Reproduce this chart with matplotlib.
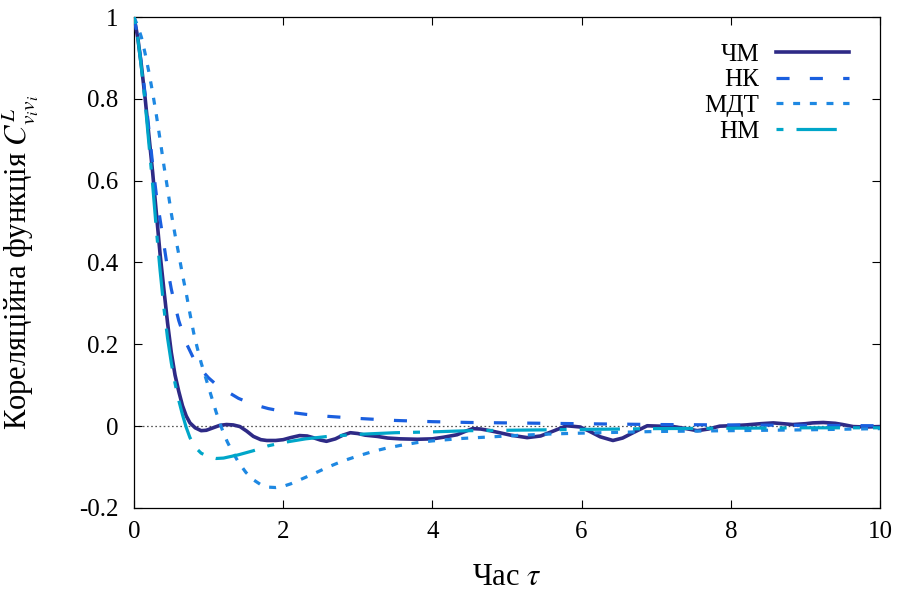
import matplotlib
matplotlib.use("Agg")
import matplotlib.pyplot as plt
from matplotlib.ticker import FuncFormatter

plt.rcParams['font.family'] = 'serif'
plt.rcParams['font.serif'] = ['Liberation Serif', 'DejaVu Serif']
plt.rcParams['mathtext.fontset'] = 'stix'
plt.rcParams['lines.scale_dashes'] = False

# ---- data ----
t_chm = [0, 0.05, 0.1, 0.15, 0.2, 0.25, 0.3, 0.35, 0.4, 0.45, 0.5, 0.55, 0.6, 0.65,
         0.7, 0.75, 0.82, 0.9, 0.97, 1.06, 1.15, 1.24, 1.33, 1.42, 1.51, 1.6, 1.7, 1.78,
         1.9, 2.0, 2.1, 2.22, 2.32, 2.4, 2.5, 2.58, 2.7, 2.8, 2.9, 3.0, 3.1, 3.26, 3.4,
         3.57, 3.8, 4.0, 4.15, 4.33, 4.45, 4.54, 4.65, 4.77, 4.9, 5.05, 5.27, 5.45,
         5.62, 5.8, 5.98, 6.1, 6.25, 6.42, 6.55, 6.69, 6.88, 7.05, 7.23, 7.4, 7.55,
         7.7, 7.85, 8.0, 8.2, 8.4, 8.57, 8.7, 8.83, 9.0, 9.1, 9.24, 9.4, 9.5, 9.64,
         9.8, 10.0]
v_chm = [1.0, 0.95, 0.88, 0.80, 0.71, 0.62, 0.52, 0.42, 0.335, 0.252, 0.18, 0.125,
         0.085, 0.05, 0.025, 0.008, -0.004, -0.011, -0.010, -0.004, 0.002, 0.004,
         0.003, -0.001, -0.012, -0.025, -0.033, -0.035, -0.035, -0.033, -0.028,
         -0.023, -0.024, -0.028, -0.034, -0.037, -0.031, -0.022, -0.016, -0.018,
         -0.022, -0.025, -0.029, -0.031, -0.032, -0.031, -0.027, -0.021, -0.012,
         -0.006, -0.007, -0.011, -0.016, -0.022, -0.028, -0.024, -0.012, 0.001,
         -0.002, -0.012, -0.026, -0.035, -0.029, -0.016, 0.001, 0.0, -0.001, -0.006,
         -0.011, -0.007, 0.0, 0.001, 0.003, 0.006, 0.008, 0.006, 0.004, 0.006, 0.008,
         0.009, 0.007, 0.004, -0.001, -0.002, -0.001]

t_nk = [0, 0.05, 0.1, 0.15, 0.2, 0.25, 0.3, 0.35, 0.4, 0.45, 0.5, 0.55, 0.6, 0.7,
        0.8, 0.9, 1.0, 1.1, 1.2, 1.4, 1.6, 1.8, 2.0, 2.3, 2.6, 3.0, 3.5, 4.0, 4.5,
        5.0, 6.0, 7.0, 8.0, 9.0, 10.0]
v_nk = [1.0, 0.95, 0.885, 0.81, 0.725, 0.64, 0.565, 0.505, 0.445, 0.385, 0.335,
        0.295, 0.258, 0.203, 0.165, 0.138, 0.118, 0.102, 0.09, 0.068, 0.053, 0.043,
        0.036, 0.029, 0.024, 0.019, 0.014, 0.011, 0.009, 0.008, 0.006, 0.004,
        0.003, 0.002, 0.001]

t_mdt = [0, 0.05, 0.1, 0.15, 0.2, 0.25, 0.3, 0.35, 0.4, 0.45, 0.5, 0.55, 0.6, 0.65,
         0.7, 0.75, 0.8, 0.85, 0.9, 0.95, 1.0, 1.05, 1.1, 1.15, 1.2, 1.25, 1.3, 1.4,
         1.5, 1.6, 1.7, 1.8, 1.9, 2.0, 2.1, 2.2, 2.4, 2.6, 2.8, 3.0, 3.2, 3.4, 3.6,
         3.8, 4.0, 4.4, 4.8, 5.2, 5.6, 6.0, 6.5, 7.0, 8.0, 9.0, 10.0]
v_mdt = [1.0, 0.978, 0.95, 0.91, 0.865, 0.815, 0.76, 0.70, 0.638, 0.58, 0.52,
         0.468, 0.42, 0.37, 0.325, 0.275, 0.228, 0.19, 0.155, 0.125, 0.095, 0.065,
         0.035, 0.008, -0.017, -0.038, -0.056, -0.088, -0.113, -0.131, -0.143,
         -0.149, -0.150, -0.147, -0.141, -0.133, -0.117, -0.100, -0.085, -0.073,
         -0.062, -0.053, -0.046, -0.040, -0.036, -0.030, -0.026, -0.022, -0.019,
         -0.017, -0.015, -0.013, -0.011, -0.009, -0.006]

t_nm = [0, 0.05, 0.1, 0.15, 0.2, 0.25, 0.3, 0.35, 0.4, 0.45, 0.5, 0.55, 0.6, 0.65,
        0.7, 0.75, 0.8, 0.85, 0.9, 1.0, 1.1, 1.2, 1.4, 1.6, 1.8, 2.0, 2.3, 2.6, 3.0,
        3.5, 4.0, 4.5, 5.0, 5.5, 6.0, 7.0, 8.0, 9.0, 10.0]
v_nm = [1.0, 0.95, 0.875, 0.79, 0.69, 0.59, 0.48, 0.38, 0.29, 0.215, 0.155, 0.105,
        0.063, 0.028, -0.003, -0.028, -0.045, -0.057, -0.066, -0.075, -0.079,
        -0.078, -0.070, -0.060, -0.048, -0.040, -0.031, -0.025, -0.020, -0.016,
        -0.014, -0.011, -0.010, -0.009, -0.008, -0.006, -0.005, -0.004, -0.004]

labels = ['ЧМ', 'НК', 'МДТ', 'НМ']
colors = ['#2e2a86', '#1a5fdf', '#1e88e2', '#00a6c9']
xticks = [0, 2, 4, 6, 8, 10]
yticks = [-0.2, 0, 0.2, 0.4, 0.6, 0.8, 1.0]

# ---- figure ----
fig = plt.figure(figsize=(8.97, 5.92), dpi=100)
ax = fig.add_axes([134 / 897, 84 / 592, 746 / 897, 491 / 592])

ax.axhline(0, color='#555555', lw=0.9, ls=(0, (1.2, 1.8)), zorder=1)

lw = 2.3
ax.plot(t_chm, v_chm, color=colors[0], lw=2.6, ls='-', label=labels[0], zorder=3)
ax.plot(t_nk, v_nk, color=colors[1], lw=lw, ls=(0, (9.4, 14.6)), label=labels[1], zorder=3)
ax.plot(t_mdt, v_mdt, color=colors[2], lw=lw, ls=(0, (5.0, 7.0)), label=labels[2], zorder=3)
ax.plot(t_nm, v_nm, color=colors[3], lw=lw, ls=(0, (5.0, 9.4, 29.0, 9.4)), label=labels[3], zorder=3)

ax.set_xlim(0, 10)
ax.set_ylim(-0.2, 1.0)
ax.set_xticks(xticks)
ax.set_yticks(yticks)
ax.xaxis.set_major_formatter(FuncFormatter(lambda v, p: f'{v:g}'))
ax.yaxis.set_major_formatter(FuncFormatter(lambda v, p: f'{v:g}'))
ax.tick_params(axis='both', which='major', direction='in', length=6, width=0.8,
               top=True, right=True, labelsize=18, colors='black')
ax.tick_params(axis='x', pad=9)
ax.tick_params(axis='y', pad=11)
for s in ax.spines.values():
    s.set_linewidth(0.9)
    s.set_color('black')

ax.set_xlabel(r'Час $\tau$', fontsize=22)
ax.set_ylabel(r'Кореляційна функція $C^L_{v_i v_i}$', fontsize=22)
ax.xaxis.set_label_coords(0.5, -0.111)
ax.yaxis.set_label_coords(-0.125, 0.5)

leg = ax.legend(loc='upper right', bbox_to_anchor=(0.9584, 0.947), frameon=False,
                markerfirst=False, fontsize=18, handlelength=2.9, handletextpad=0.68,
                labelspacing=0.13, borderpad=0, borderaxespad=0)

fig.savefig('out.png', dpi=100)
